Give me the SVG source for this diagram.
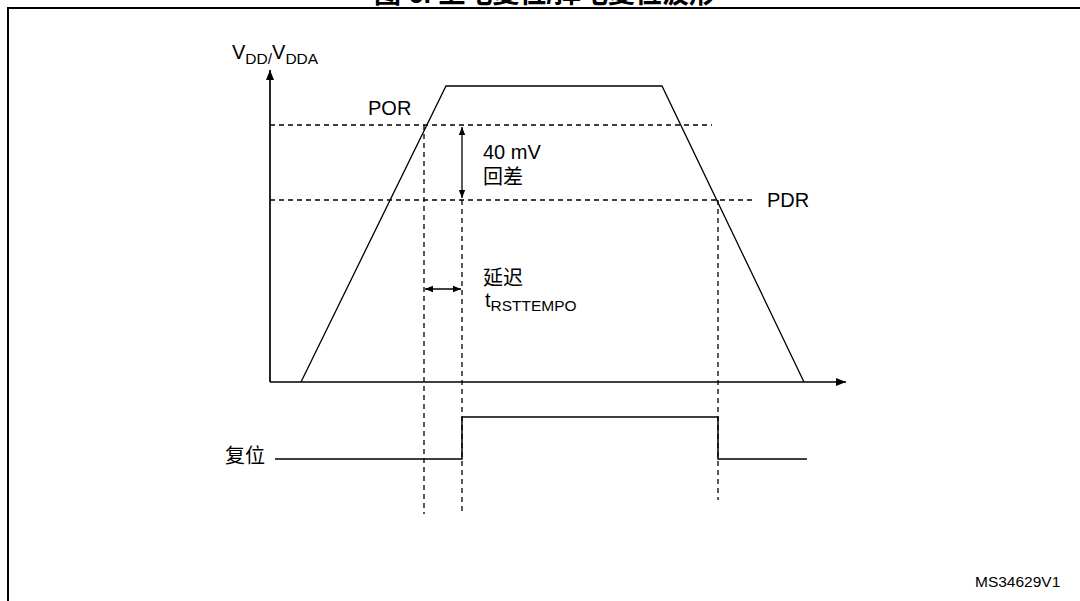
<svg xmlns="http://www.w3.org/2000/svg" width="1080" height="601" viewBox="0 0 1080 601">
<style>
  .t { font-family: "Liberation Sans", "Noto Sans CJK SC", Arial, sans-serif; font-size: 20px; fill: #000; }
  .sub { font-size: 15.5px; }
  .ttl { font-family: "Liberation Sans", "Noto Sans CJK SC", sans-serif; font-size: 27px; font-weight: bold; fill: #000; }
  .ln { fill: none; stroke: #000; stroke-width: 1.3; }
  .ax { fill: none; stroke: #000; stroke-width: 1.7; }
  .dash { fill: none; stroke: #000; stroke-width: 1.3; stroke-dasharray: 5 4; }
</style>
<defs>
  <marker id="ah" viewBox="0 0 10 10" refX="10" refY="5" markerWidth="10" markerHeight="10" markerUnits="userSpaceOnUse" orient="auto-start-reverse">
    <path d="M0,1 L10,5 L0,9 Z" fill="#000"/>
  </marker>
  <marker id="sh" viewBox="0 0 10 10" refX="10" refY="5" markerWidth="8" markerHeight="8" markerUnits="userSpaceOnUse" orient="auto-start-reverse">
    <path d="M0,1 L10,5 L0,9 Z" fill="#000"/>
  </marker>
</defs>
<rect width="1080" height="601" fill="#fff"/>
<g id="frame">
  <path d="M8,601 L8,8 L1080,8" fill="none" stroke="#000" stroke-width="2"/>
  <text class="ttl" x="545" y="3" text-anchor="middle">图 6. 上电复位/掉电复位波形</text>
</g>
<g id="axes">
  <path class="ax" d="M270,382 L270,70" marker-end="url(#ah)"/>
  <path class="ax" d="M270,382 L846,382" marker-end="url(#ah)"/>
  <text class="t" x="232" y="59">V<tspan class="sub" dy="5">DD/</tspan><tspan dy="-5">V</tspan><tspan class="sub" dy="5">DDA</tspan></text>
</g>
<g id="connectors">
  <path class="dash" d="M270,125 L712,125"/>
  <path class="dash" d="M270,200 L756,200"/>
  <path class="dash" d="M424,125 L424,514"/>
  <path class="dash" d="M462,200 L462,514"/>
  <path class="dash" d="M718,200 L718,500"/>
  <path class="ln" d="M462,127 L462,198" marker-start="url(#sh)" marker-end="url(#sh)"/>
  <path class="ln" d="M425,289 L461,289" marker-start="url(#sh)" marker-end="url(#sh)"/>
</g>
<g id="vdd-waveform">
  <path class="ln" d="M301,382 L446,86 L662,86 L804,382"/>
</g>
<g id="labels">
  <text class="t" x="368" y="115">POR</text>
  <text class="t" x="767" y="207">PDR</text>
  <text class="t" x="483" y="159">40 mV</text>
  <text class="t" x="483" y="184">回差</text>
  <text class="t" x="483" y="285">延迟</text>
  <text class="t" x="485" y="307">t<tspan class="sub" dy="4">RSTTEMPO</tspan></text>
  <text class="t" x="975" y="587" style="font-size:15.5px">MS34629V1</text>
</g>
<g id="reset-signal">
  <text class="t" x="225" y="463">复位</text>
  <path class="ln" style="stroke-width:1.5" d="M275,459 L462,459 L462,417 L718,417 L718,459 L807,459"/>
</g>
</svg>
